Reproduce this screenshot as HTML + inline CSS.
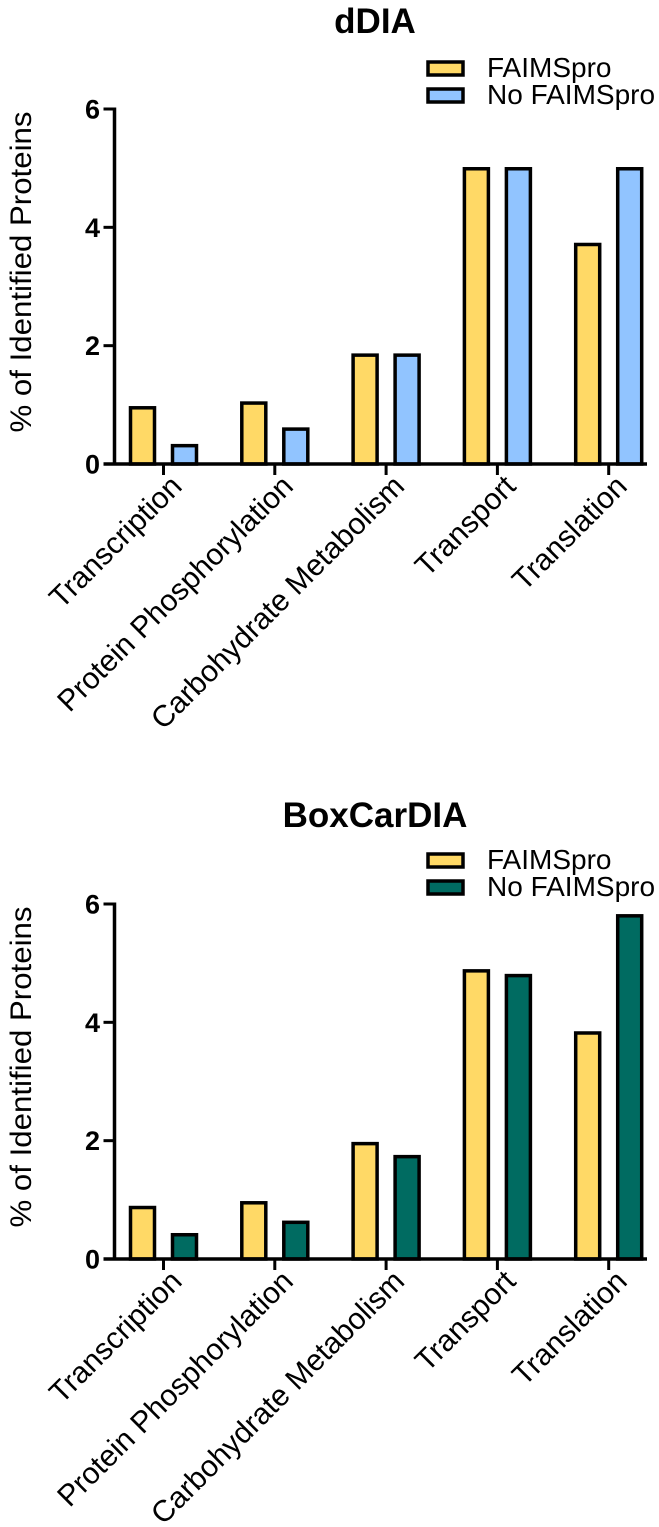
<!DOCTYPE html>
<html><head><meta charset="utf-8"><style>
html,body{margin:0;padding:0;background:#fff;}
svg{display:block;font-family:"Liberation Sans",Arial,sans-serif;}
</style></head><body>
<svg id="fig" width="659" height="1527" viewBox="0 0 659 1527" xmlns="http://www.w3.org/2000/svg"></svg>
<script>
const categories = ["Transcription","Protein Phosphorylation","Carbohydrate Metabolism","Transport","Translation"];
const ddiaFaims = [0.95, 1.03, 1.84, 4.99, 3.71];
const ddiaNoFaims = [0.31, 0.59, 1.84, 4.99, 4.99];
const boxFaims = [0.87, 0.95, 1.95, 4.87, 3.82];
const boxNoFaims = [0.41, 0.62, 1.73, 4.79, 5.80];
const yTicks = [0, 2, 4, 6];
const titles = ["dDIA", "BoxCarDIA"];
const legendLabels = ["FAIMSpro", "No FAIMSpro"];

const NS = "http://www.w3.org/2000/svg";
const svg = document.getElementById("fig");
function mk(tag, attrs, parent){const e=document.createElementNS(NS,tag);for(const k in attrs)e.setAttribute(k,attrs[k]);(parent||svg).appendChild(e);return e;}

function drawChart(off, title, s1, s2, c2, key){
  const g = mk("g", {});
  
  
  const y0 = 464 + off, y6 = 109 + off, axX = 114.5;
  const yScale = v => y0 - (v / 6) * (y0 - y6);
  const xCenter = i => 163.5 + i * 111.3;

  const t = mk("text", {x:375, y:33+off - (off?1:0), "text-anchor":"middle", "font-size":35, "font-weight":"bold", fill:"#000"}, g);
  t.textContent = title;
  
  

  const cols = ["#FFD966", c2];
  const loff = off ? off - 3 : 0;
  legendLabels.forEach((lab, i) => {
    const ly = 62 + loff + i * 27;
    const r = mk("rect", {x:428, y:ly, width:35, height:13, fill:cols[i], stroke:"#000", "stroke-width":3.5}, g);
    
    
    const tx = mk("text", {x:487, y:ly+15, "font-size":28, fill:"#000"}, g);
    tx.textContent = lab;
    
    
  });

  const yl = mk("text", {transform:`translate(31,${272+off}) rotate(-90)`, "text-anchor":"middle", "font-size":30, fill:"#000", textLength:321, lengthAdjust:"spacingAndGlyphs"}, g);
  yl.textContent = "% of Identified Proteins";
  
  

  yTicks.forEach(v => {
    const y = yScale(v);
    const tl = mk("line", {x1:axX-11, x2:axX, y1:y, y2:y, stroke:"#000", "stroke-width":3}, g);
    
    
    const tx = mk("text", {x:100, y:y+9.5, "text-anchor":"end", "font-size":27, "font-weight":"bold", fill:"#000"}, g);
    tx.textContent = v;
    
    
  });

  categories.forEach((c, i) => {
    const xc = xCenter(i);
    [[s1[i], xc - 21, cols[0]], [s2[i], xc + 21, cols[1]]].forEach(([v, bx, col], j) => {
      const yt = yScale(v);
      const b = mk("rect", {x:bx-12, y:yt, width:24, height:y0-yt, fill:col, stroke:"#000", "stroke-width":3.5}, g);
      
      
    });
    const tk = mk("line", {x1:xc, x2:xc, y1:y0, y2:y0+11, stroke:"#000", "stroke-width":3}, g);
    
    
    const ex = xc + 20, ey = y0 + 24;
    const lt = mk("text", {transform:`translate(${ex},${ey}) rotate(-45)`, "text-anchor":"end", "font-size":30, fill:"#000"}, g);
    lt.textContent = c;
    
    
  });

  const ya = mk("line", {x1:axX, x2:axX, y1:y6-1.5, y2:y0, stroke:"#000", "stroke-width":3.5}, g);
  
  
  const xa = mk("line", {x1:axX-11, x2:647, y1:y0, y2:y0, stroke:"#000", "stroke-width":3.5}, g);
  
  
}

drawChart(0, titles[0], ddiaFaims, ddiaNoFaims, "#91C4FF", "ddia");
drawChart(795, titles[1], boxFaims, boxNoFaims, "#006B61", "boxcardia");
</script>
</body></html>
